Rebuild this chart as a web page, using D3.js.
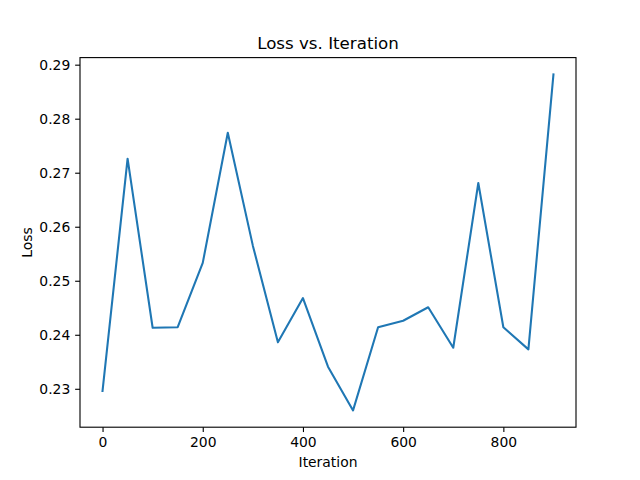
<!DOCTYPE html>
<html><head><meta charset="utf-8">
<script src="https://cdn.jsdelivr.net/npm/d3@7"></script>
<style>body{margin:0;background:#fff;} svg{display:block;}</style>
</head><body>
<svg id="c" width="640" height="480"></svg>
<script>
const iterations = [0,50,100,150,200,250,300,350,400,450,500,550,600,650,700,750,800,850,900];
const losses = [0.2296,0.2726,0.2413,0.2414,0.2533,0.2774,0.2565,0.2386,0.2468,0.2341,0.2260,0.2414,0.2426,0.2451,0.2376,0.2681,0.2414,0.2373,0.2882];
const xTicks = [0,200,400,600,800];
const yTicks = [0.23,0.24,0.25,0.26,0.27,0.28,0.29];

const svg = d3.select("#c");
const L=80, R=576, T=57.6, B=427.2;
const font = "DejaVu Sans, sans-serif";
const xe = d3.extent(iterations), ye = d3.extent(losses);
const xm = (xe[1]-xe[0])*0.05, ym = (ye[1]-ye[0])*0.05;
const x = d3.scaleLinear().domain([xe[0]-xm, xe[1]+xm]).range([L,R]);
const y = d3.scaleLinear().domain([ye[0]-ym, ye[1]+ym]).range([B,T]);

const line = d3.line().x((d,i)=>x(iterations[i])).y(d=>y(d));
svg.append("path").datum(losses).attr("d", line)
  .attr("fill","none").attr("stroke","#1f77b4").attr("stroke-width",2.08)
  .attr("stroke-linejoin","round").attr("stroke-linecap","square");

const xAxis = svg.append("g").attr("transform",`translate(0,${B})`)
  .call(d3.axisBottom(x).tickValues(xTicks).tickSize(4.86).tickPadding(4.9).tickFormat(d3.format("d")));
const yAxis = svg.append("g").attr("transform",`translate(${L},0)`)
  .call(d3.axisLeft(y).tickValues(yTicks).tickSize(4.86).tickPadding(4.9).tickFormat(d3.format(".2f")));
[xAxis,yAxis].forEach(g=>{
  g.select(".domain").remove();
  g.selectAll(".tick line").attr("stroke","#000").attr("stroke-width",1.11);
  g.selectAll(".tick text").attr("font-family",font).attr("font-size","13.9px").attr("fill","#000");
});

svg.append("rect").attr("x",L).attr("y",T).attr("width",R-L).attr("height",B-T)
  .attr("fill","none").attr("stroke","#000").attr("stroke-width",1.11);

svg.append("text").attr("x",(L+R)/2).attr("y",49).attr("text-anchor","middle")
  .attr("font-family",font).attr("font-size","16.67px").text("Loss vs. Iteration");
svg.append("text").attr("x",(L+R)/2).attr("y",467).attr("text-anchor","middle")
  .attr("font-family",font).attr("font-size","13.9px").text("Iteration");
svg.append("text").attr("transform",`translate(32,${(T+B)/2}) rotate(-90)`).attr("text-anchor","middle")
  .attr("font-family",font).attr("font-size","13.9px").text("Loss");
</script>
</body></html>
